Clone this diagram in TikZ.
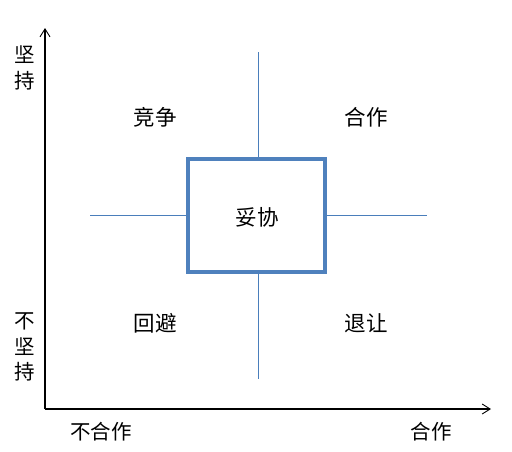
\documentclass[tikz,border=0pt]{standalone}
\usepackage{fontspec}
\setmainfont{Noto Sans CJK SC}
\usetikzlibrary{arrows.meta}
\definecolor{boxblue}{HTML}{4F81BD}
\definecolor{lineblue}{HTML}{4A7EBB}
\begin{document}
\begin{tikzpicture}[x=1pt,y=-1pt,
  axis/.style={draw=black,line width=1.1pt,-{Straight Barb[length=8pt,width=10pt,line width=0.9pt]}},
  thin/.style={draw=lineblue,line width=0.9pt},
  lbl/.style={font=\fontsize{21.5}{24}\selectfont,inner sep=0pt},
  vlbl/.style={font=\fontsize{20.5}{25.5}\selectfont,inner sep=0pt,align=center}]
\useasboundingbox (0,0) rectangle (512,451);
\coordinate (o) at (45,409);
\coordinate (ytop) at (45,28);
\coordinate (xend) at (491,409);
\coordinate (vt) at (258,52);
\coordinate (vb) at (258,379);
\coordinate (hl) at (90,215);
\coordinate (hr) at (427,215);
\draw[axis] (o) -- (ytop);
\draw[axis] (o) -- (xend);
\draw[thin] (vt) -- (vb);
\draw[thin] (hl) -- (hr);
\node[draw=boxblue,line width=3.3pt,fill=white,minimum width=137pt,minimum height=113pt,inner sep=0pt] (box) at (256.5,215.5) {};
\node[lbl] (tuoxie) at (257,217) {妥协};
\node[lbl] (jingzheng) at (155,117) {竞争};
\node[lbl] (hezuo) at (366,117) {合作};
\node[lbl] (huibi) at (155,323) {回避};
\node[lbl] (tuirang) at (366,323) {退让};
\node[vlbl] (jianchi) at (25,68) {坚\\持};
\node[vlbl] (bujianchi) at (25,347) {不\\坚\\持};
\node[vlbl] (buhezuo) at (101,432) {不合作};
\node[vlbl] (hezuox) at (431,432) {合作};
\end{tikzpicture}
\end{document}
